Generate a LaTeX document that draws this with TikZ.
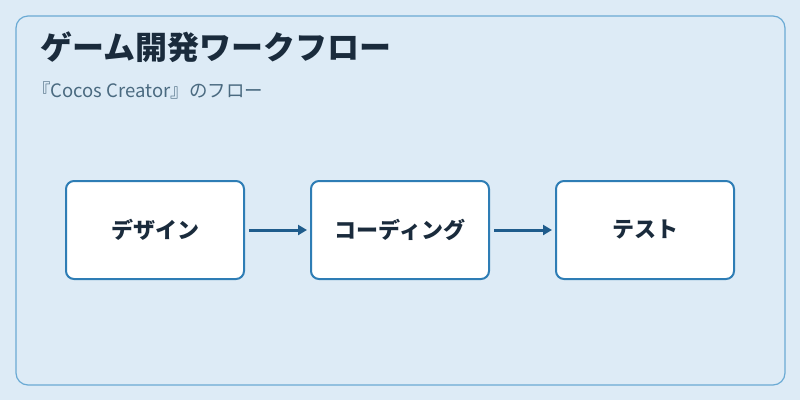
\documentclass[tikz,border=0pt]{standalone}
\usepackage{fontspec}
\setmainfont{Noto Sans CJK JP}
\usetikzlibrary{arrows.meta}
\definecolor{bg}{HTML}{DDEBF6}
\definecolor{frame}{HTML}{6AAAD4}
\definecolor{boxb}{HTML}{2E7DB5}
\definecolor{arr}{HTML}{1F5C8C}
\definecolor{ttl}{HTML}{1A2B3C}
\definecolor{sub}{HTML}{4A6A80}
\begin{document}
\begin{tikzpicture}[x=1pt,y=-1pt,
  stage/.style={draw=boxb,line width=2pt,fill=white,rounded corners=8pt,minimum width=178pt,minimum height=98pt,font=\bfseries\fontsize{22}{26}\selectfont,text=ttl},
  flow/.style={draw=arr,line width=3pt,-{Triangle[length=9pt,width=10pt]}}]
\useasboundingbox (0,0) rectangle (800,400);
\fill[bg] (0,0) rectangle (800,400);
\draw[frame,line width=1.2pt,rounded corners=12pt,fill=bg] (16,16) rectangle (785,385);
\node[anchor=west,text=ttl,font=\bfseries\fontsize{32}{38}\selectfont,inner sep=0pt] (title) at (40,47) {ゲーム開発ワークフロー};
\node[anchor=west,text=sub,font=\fontsize{18.5}{22}\selectfont,inner sep=0pt] (subt) at (32,90) {『Cocos Creator』のフロー};
\node[stage] (a) at (155,230) {デザイン};
\node[stage] (b) at (400,230) {コーディング};
\node[stage] (c) at (645,230) {テスト};
\draw[flow] ([xshift=4pt]a.east) -- ([xshift=-3pt]b.west);
\draw[flow] ([xshift=4pt]b.east) -- ([xshift=-3pt]c.west);
\end{tikzpicture}
\end{document}
